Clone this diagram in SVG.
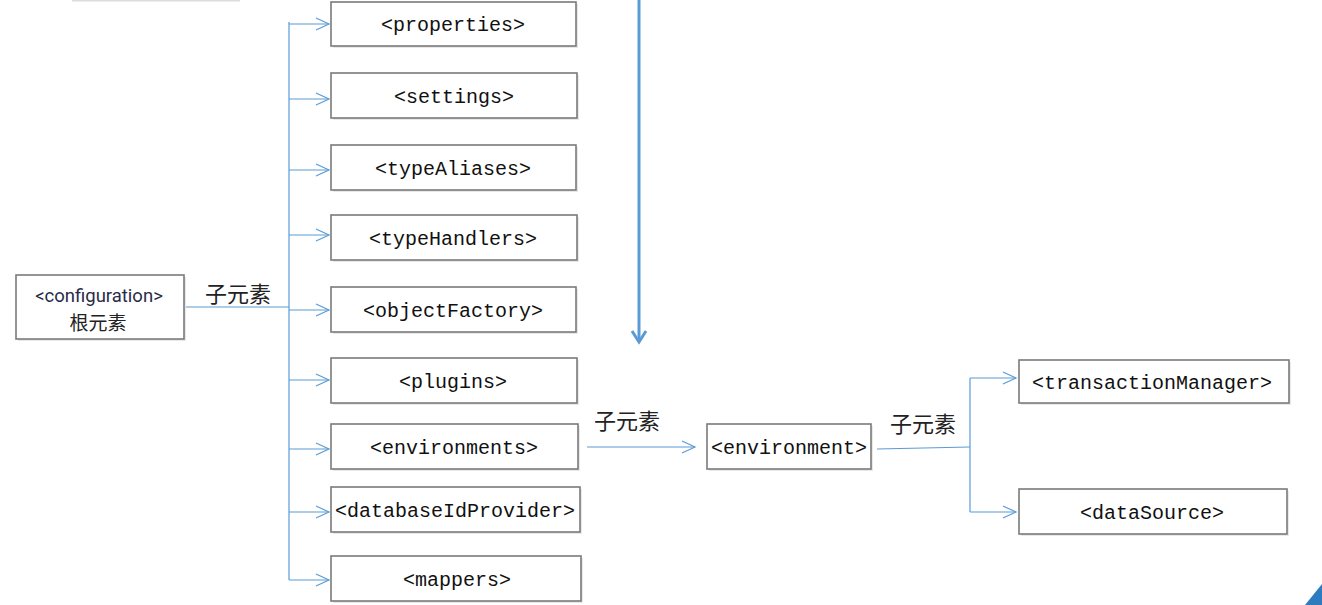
<svg xmlns="http://www.w3.org/2000/svg" width="1322" height="605" viewBox="0 0 1322 605">
<style>
.box{fill:#fff;stroke:#7a7a7a;stroke-width:1.6}
.sh{fill:#e8e8e8}
.mono{font-family:"Liberation Mono","DejaVu Sans Mono",monospace;font-size:20px;fill:#111;text-anchor:middle}
.cn{font-family:"Noto Sans CJK SC",sans-serif;font-size:22px;fill:#222}
.ln{fill:none;stroke:#5b9bd5;stroke-width:1.2}
</style>
<defs>
<marker id="open" markerWidth="16" markerHeight="14" refX="14" refY="7" orient="auto" markerUnits="userSpaceOnUse">
<path d="M1,1 L14,7 L1,13" fill="none" stroke="#5b9bd5" stroke-width="1.2"/>
</marker>
</defs>
<rect x="72" y="0" width="168" height="1.5" fill="#dcdcdc"/>
<g id="connectors">
<path class="ln" d="M186,307 H289"/>
<path class="ln" d="M289,22 V580"/>
<path class="ln" d="M289,24 H329" marker-end="url(#open)"/>
<path class="ln" d="M289,99 H329" marker-end="url(#open)"/>
<path class="ln" d="M289,170 H329" marker-end="url(#open)"/>
<path class="ln" d="M289,235 H329" marker-end="url(#open)"/>
<path class="ln" d="M289,310 H329" marker-end="url(#open)"/>
<path class="ln" d="M289,380 H329" marker-end="url(#open)"/>
<path class="ln" d="M289,449 H329" marker-end="url(#open)"/>
<path class="ln" d="M289,512 H329" marker-end="url(#open)"/>
<path class="ln" d="M289,580 H329" marker-end="url(#open)"/>
<path class="ln" d="M587,447 H695" marker-end="url(#open)"/>
<path class="ln" d="M877,449 L970,447"/>
<path class="ln" d="M970,378 V512"/>
<path class="ln" d="M970,378 H1016" marker-end="url(#open)"/>
<path class="ln" d="M970,512 H1016" marker-end="url(#open)"/>
<path d="M639,0 V342" fill="none" stroke="#5b9bd5" stroke-width="3"/>
<path d="M632,331 L639,342 L646,331" fill="none" stroke="#5b9bd5" stroke-width="3"/>
<text class="cn" x="205" y="302">子元素</text>
<text class="cn" x="594" y="429">子元素</text>
<text class="cn" x="890" y="432">子元素</text>
</g>
<g id="configuration"><rect class="sh" x="18" y="277" width="168" height="64"/><rect class="box" x="16" y="275" width="168" height="64"/>
<text x="99" y="302" text-anchor="middle" font-family="Roboto,'Liberation Sans',sans-serif" font-size="18.5" fill="#2a2a4a">&lt;configuration&gt;</text>
<text x="98" y="330" text-anchor="middle" font-family="'Noto Sans CJK SC',sans-serif" font-size="19" fill="#222">根元素</text></g>
<g id="properties"><rect class="sh" x="333" y="4" width="245" height="44"/><rect class="box" x="331" y="2" width="245" height="44"/><text class="mono" x="453" y="31">&lt;properties&gt;</text></g>
<g id="settings"><rect class="sh" x="333" y="75" width="246" height="45"/><rect class="box" x="331" y="73" width="246" height="45"/><text class="mono" x="454" y="103">&lt;settings&gt;</text></g>
<g id="typeAliases"><rect class="sh" x="333" y="147" width="245" height="45"/><rect class="box" x="331" y="145" width="245" height="45"/><text class="mono" x="453" y="175">&lt;typeAliases&gt;</text></g>
<g id="typeHandlers"><rect class="sh" x="333" y="217" width="246" height="45"/><rect class="box" x="331" y="215" width="246" height="45"/><text class="mono" x="453" y="245">&lt;typeHandlers&gt;</text></g>
<g id="objectFactory"><rect class="sh" x="333" y="289" width="245" height="45"/><rect class="box" x="331" y="287" width="245" height="45"/><text class="mono" x="453" y="317">&lt;objectFactory&gt;</text></g>
<g id="plugins"><rect class="sh" x="333" y="360" width="246" height="45"/><rect class="box" x="331" y="358" width="246" height="45"/><text class="mono" x="453" y="388">&lt;plugins&gt;</text></g>
<g id="environments"><rect class="sh" x="333" y="426" width="247" height="45"/><rect class="box" x="331" y="424" width="247" height="45"/><text class="mono" x="454" y="454">&lt;environments&gt;</text></g>
<g id="databaseIdProvider"><rect class="sh" x="333" y="489" width="249" height="45"/><rect class="box" x="331" y="487" width="249" height="45"/><text class="mono" x="455" y="517">&lt;databaseIdProvider&gt;</text></g>
<g id="mappers"><rect class="sh" x="333" y="558" width="250" height="45"/><rect class="box" x="331" y="556" width="250" height="45"/><text class="mono" x="457" y="586">&lt;mappers&gt;</text></g>
<g id="environment"><rect class="sh" x="709" y="426" width="164" height="45"/><rect class="box" x="707" y="424" width="164" height="45"/><text class="mono" x="789" y="454">&lt;environment&gt;</text></g>
<g id="transactionManager"><rect class="sh" x="1021" y="362" width="270" height="43"/><rect class="box" x="1019" y="360" width="270" height="43"/><text class="mono" x="1152" y="389">&lt;transactionManager&gt;</text></g>
<g id="dataSource"><rect class="sh" x="1021" y="491" width="268" height="45"/><rect class="box" x="1019" y="489" width="268" height="45"/><text class="mono" x="1152" y="519">&lt;dataSource&gt;</text></g>
<path d="M1305,605 L1322,584 L1322,605 Z" fill="#2f7bc0"/>
</svg>
